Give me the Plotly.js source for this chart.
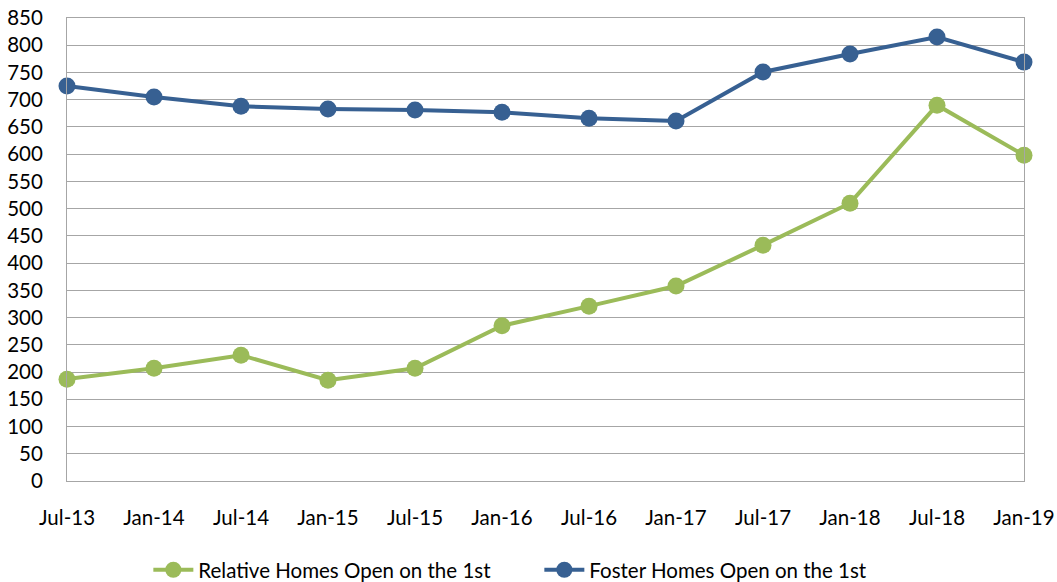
<!DOCTYPE html>
<html>
<head>
<meta charset="utf-8">
<script src="https://cdn.plot.ly/plotly-3.0.1.min.js"></script>
<style>html,body{margin:0;padding:0;background:#fff}#chart{width:1057px;height:582px}</style>
</head>
<body>
<div id="chart"></div>
<script>
const categories = ["Jul-13","Jan-14","Jul-14","Jan-15","Jul-15","Jan-16","Jul-16","Jan-17","Jul-17","Jan-18","Jul-18","Jan-19"];
const relativeHomes = [187, 207, 231, 185, 207, 285, 321, 358, 433, 510, 690, 598];
const fosterHomes = [725, 705, 688, 683, 681, 677, 666, 661, 751, 784, 815, 769];
const yTicks = [0,50,100,150,200,250,300,350,400,450,500,550,600,650,700,750,800,850];

const font = {family: "Lato, 'Open Sans', sans-serif", size: 20.5, color: "#000"};
const traces = [
  {x: categories, y: relativeHomes, name: "Relative Homes Open on the 1st", type: "scatter", mode: "lines+markers",
   line: {color: "#9bbb59", width: 4}, marker: {color: "#9bbb59", size: 17}, cliponaxis: false},
  {x: categories, y: fosterHomes, name: "Foster Homes Open on the 1st", type: "scatter", mode: "lines+markers",
   line: {color: "#376092", width: 4}, marker: {color: "#376092", size: 17}, cliponaxis: false}
];
const layout = {
  width: 1057, height: 582,
  margin: {l: 67, r: 33, t: 18, b: 101, autoexpand: false},
  paper_bgcolor: "#fff", plot_bgcolor: "#fff",
  font: font,
  showlegend: true,
  legend: {orientation: "h", x: 0.085, xanchor: "left", y: -0.192, yanchor: "middle", font: font, itemwidth: 40,
           traceorder: "normal", entrywidth: 336, entrywidthmode: "pixels"},
  xaxis: {type: "category", range: [0, 11], showgrid: false, zeroline: false, showline: true, mirror: true,
          linecolor: "#a6a6a6", linewidth: 1, ticks: "", tickfont: font, ticklabelstandoff: 18, automargin: false},
  yaxis: {range: [0, 850], tickvals: yTicks, ticktext: yTicks.map(String), showgrid: true, gridcolor: "#a6a6a6",
          gridwidth: 1, zeroline: false, showline: true, mirror: true, linecolor: "#a6a6a6", linewidth: 1,
          ticks: "", tickfont: font, ticklabelstandoff: 19, automargin: false}
};
Plotly.newPlot("chart", traces, layout, {displayModeBar: false, staticPlot: true});
</script>
</body>
</html>
